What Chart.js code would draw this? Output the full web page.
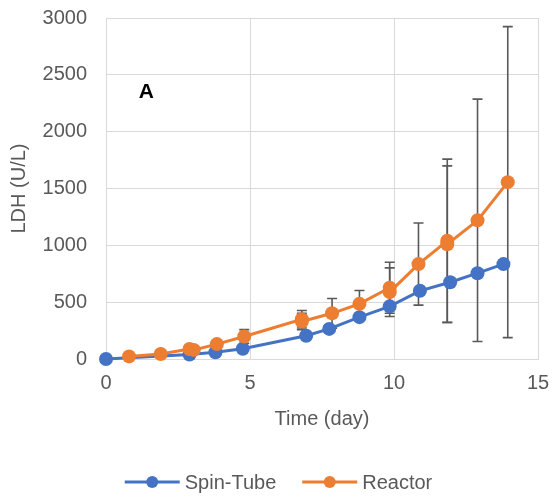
<!DOCTYPE html>
<html>
<head>
<meta charset="utf-8">
<script src="https://cdn.jsdelivr.net/npm/chart.js@4.4.1/dist/chart.umd.min.js"></script>
<style>
  html, body { margin: 0; padding: 0; background: #fff; }
  #wrap { width: 553px; height: 499px; }
</style>
</head>
<body>
<div id="wrap"><canvas id="ldhChart" width="553" height="499"></canvas></div>
<script>
// values
const spinDays   = [0, 2.9, 3.8, 4.75, 6.95, 7.75, 8.8, 9.85, 10.9, 11.95, 12.9, 13.8];
const spinLDH    = [0, 40, 60, 90, 205, 265, 368, 463, 600, 675, 755, 835];
const spinErr    = [0, 0, 0, 0, 0, 0, 0, 0, 0, 0, 0, 0];

const reactorDays = [0.8, 1.9, 2.9, 3.05, 3.85, 4.8, 6.8, 6.8, 7.85, 8.8, 9.85, 9.85, 10.85, 11.85, 11.85, 12.9, 13.95];
const reactorLDH  = [23, 44, 88, 80, 131, 198, 350, 330, 402, 485, 627, 588, 835, 1040, 1010, 1220, 1556];
const reactorErr  = [0, 0, 0, 0, 0, 60, 77, 73, 130, 117, 224, 214, 361, 718, 689, 1066, 1368];

const xTicks = [0, 5, 10, 15];
const yTicks = [0, 500, 1000, 1500, 2000, 2500, 3000];

const BLUE = "#4472C4";
const ORANGE = "#ED7D31";
const GREY_TEXT = "#595959";
const FONT = "'Liberation Sans', Arial, sans-serif";

function toPoints(xs, ys) {
  return xs.map((d, i) => ({ x: d, y: ys[i] }));
}

/**
 * Symmetric error bars, drawn under the markers
 */
const errorBars = {
  id: "errorBars",
  beforeDatasetsDraw(chart) {
    const { ctx, scales: { x, y } } = chart;
    ctx.save();
    ctx.strokeStyle = GREY_TEXT;
    ctx.lineWidth = 1.6;
    chart.data.datasets.forEach(ds => {
      (ds.errors || []).forEach((err, i) => {
        if (!err) return;
        const pt = ds.data[i];
        const px = x.getPixelForValue(pt.x);
        const top = y.getPixelForValue(Math.min(pt.y + err, 3000));
        const bot = y.getPixelForValue(Math.max(pt.y - err, 0));
        ctx.beginPath();
        ctx.moveTo(px, top); ctx.lineTo(px, bot);
        ctx.moveTo(px - 5, top); ctx.lineTo(px + 5, top);
        if (pt.y - err > 0) { ctx.moveTo(px - 5, bot); ctx.lineTo(px + 5, bot); }
        ctx.stroke();
      });
    });
    ctx.restore();
  }
};

/**
 * Panel letter + legend (line with dot)
 */
const extras = {
  id: "extras",
  afterDraw(chart) {
    const { ctx, scales: { x, y } } = chart;
    ctx.save();
    ctx.fillStyle = "#000";
    ctx.font = "bold 21px " + FONT;
    ctx.textAlign = "center";
    ctx.textBaseline = "middle";
    ctx.fillText("A", x.getPixelForValue(1.4), y.getPixelForValue(2350));

    ctx.font = "20px " + FONT;
    ctx.textAlign = "left";
    const items = chart.data.datasets.slice().sort((a, b) => a.legendIndex - b.legendIndex);
    const lineLen = 55, gap = 5, spacing = 26;
    const widths = items.map(ds => ctx.measureText(ds.label).width);
    const total = widths.reduce((s, w) => s + lineLen + gap + w, 0) + spacing * (items.length - 1);
    let cx = (chart.width - total) / 2 + 2;
    const ly = 482;
    items.forEach((ds, i) => {
      ctx.strokeStyle = ds.borderColor;
      ctx.lineWidth = 3;
      ctx.beginPath();
      ctx.moveTo(cx, ly); ctx.lineTo(cx + lineLen, ly);
      ctx.stroke();
      ctx.fillStyle = ds.borderColor;
      ctx.beginPath();
      ctx.arc(cx + lineLen / 2, ly, 6, 0, Math.PI * 2);
      ctx.fill();
      ctx.fillStyle = GREY_TEXT;
      ctx.fillText(ds.label, cx + lineLen + gap, ly + 1);
      cx += lineLen + gap + widths[i] + spacing;
    });
    ctx.restore();
  }
};

const ldhChart = new Chart(document.getElementById("ldhChart"), {
  type: "line",
  data: {
    datasets: [
      {
        label: "Spin-Tube",
        data: toPoints(spinDays, spinLDH),
        errors: spinErr,
        legendIndex: 0,
        order: 1,
        clip: false,
        borderColor: BLUE,
        backgroundColor: BLUE,
        borderWidth: 3,
        pointRadius: 7,
        pointBorderWidth: 0,
        pointBackgroundColor: BLUE,
        tension: 0,
      },
      {
        label: "Reactor",
        data: toPoints(reactorDays, reactorLDH),
        errors: reactorErr,
        legendIndex: 1,
        order: 0,
        clip: false,
        borderColor: ORANGE,
        backgroundColor: ORANGE,
        borderWidth: 3,
        pointRadius: 7,
        pointBorderWidth: 0,
        pointBackgroundColor: ORANGE,
        tension: 0,
      },
    ],
  },
  options: {
    responsive: false,
    devicePixelRatio: 1,
    animation: false,
    layout: { padding: { top: 18, right: 15, bottom: 64, left: 2 } },
    plugins: {
      legend: { display: false },
      tooltip: { enabled: false },
    },
    scales: {
      x: {
        type: "linear",
        min: 0,
        max: 15,
        afterBuildTicks: axis => { axis.ticks = xTicks.map(v => ({ value: v })); },
        afterFit: axis => { axis.paddingLeft = 0; axis.paddingRight = 0; },
        grid: { color: "#D9D9D9", lineWidth: 1, drawTicks: false },
        border: { color: "#D9D9D9" },
        ticks: { color: GREY_TEXT, font: { family: FONT, size: 20 }, padding: 12, maxRotation: 0,
                 callback: v => String(v) },
        title: {
          display: true,
          text: "Time (day)",
          color: GREY_TEXT,
          font: { family: FONT, size: 20 },
          padding: { top: 0, bottom: 4 },
        },
      },
      y: {
        min: 0,
        max: 3000,
        afterBuildTicks: axis => { axis.ticks = yTicks.map(v => ({ value: v })); },
        afterFit: axis => { axis.width = 104; axis.paddingTop = 0; axis.paddingBottom = 0; },
        grid: { color: "#D9D9D9", lineWidth: 1, drawTicks: false },
        border: { color: "#D9D9D9" },
        ticks: { color: GREY_TEXT, font: { family: FONT, size: 20 }, padding: 19,
                 callback: v => String(v) },
        title: {
          display: true,
          text: "LDH (U/L)",
          color: GREY_TEXT,
          font: { family: FONT, size: 20 },
          padding: { top: 5, bottom: 11 },
        },
      },
    },
  },
  plugins: [errorBars, extras],
});
</script>
</body>
</html>
